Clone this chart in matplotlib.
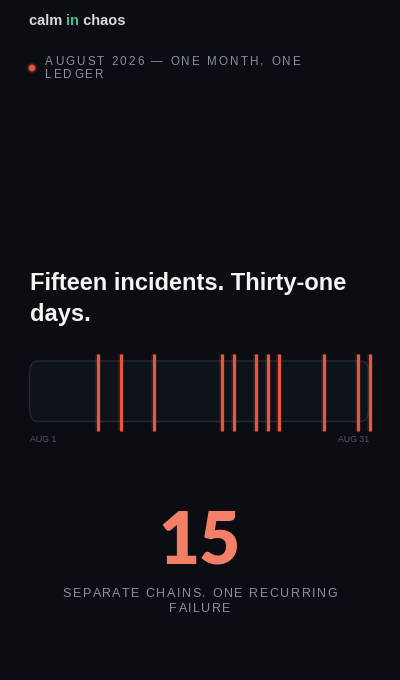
import matplotlib
matplotlib.use("Agg")
import matplotlib.pyplot as plt
from matplotlib.patches import FancyBboxPatch, Ellipse

# ---- data ----
brand_parts = ["calm ", "in", " chaos"]
subtitle_lines = ["AUGUST 2026 — ONE MONTH, ONE", "LEDGER"]
title_lines = ["Fifteen incidents. Thirty-one", "days."]
incident_days = [7, 9, 12, 18, 19, 21, 22, 23, 27, 30, 31]
day_range = [1, 31]
axis_labels = ["AUG 1", "AUG 31"]
big_number = "15"
caption_lines = ["SEPARATE CHAINS, ONE RECURRING", "FAILURE"]

# ---- style ----
W, H = 400, 680
BG = "#0b0d12"
RED = "#e9553d"
SALMON = "#f47f67"
GREEN = "#3fbf8f"
LIGHT = "#d9dbe0"
GREY = "#8a909c"
DIM = "#525966"
SANS = ["Liberation Sans", "DejaVu Sans"]

fig = plt.figure(figsize=(W / 100, H / 100), dpi=100, facecolor=BG)
renderer = fig.canvas.get_renderer()


def fx(px):
    return px / W


def fy(py):
    return 1 - py / H


def text_width(s, **kw):
    t = fig.text(0, 0, s, **kw)
    w = t.get_window_extent(renderer).width
    t.remove()
    return w


def spaced_text(x_px, y_px, s, spacing, ha="left", **kw):
    base = text_width("II", **kw)
    pos = [text_width("I" + s[:i] + "I", **kw) - base + i * spacing for i in range(len(s))]
    total = text_width("I" + s + "I", **kw) - base + (len(s) - 1) * spacing
    off = x_px if ha == "left" else x_px - total / 2
    for ch, p in zip(s, pos):
        fig.text(fx(off + p), fy(y_px), ch, ha="left", va="baseline", **kw)


# brand
x = 29
for i, part in enumerate(brand_parts):
    kw = dict(family=SANS, fontsize=10.5, fontweight="bold")
    fig.text(fx(x), fy(25), part, color=GREEN if i == 1 else LIGHT, ha="left", va="baseline", **kw)
    x += text_width(part + "I", **kw) - text_width("I", **kw)

# subtitle with dot
for r, a in [(5.5, 0.12), (4.3, 0.25), (3.2, 1.0)]:
    fig.patches.append(Ellipse((fx(32), fy(68)), 2 * r / W, 2 * r / H,
                               transform=fig.transFigure, color=RED, alpha=a, linewidth=0))
for line, base in zip(subtitle_lines, [65, 78]):
    spaced_text(45, base, line, 2.1, family=SANS, fontsize=8.4, color=GREY)

# title
for line, base in zip(title_lines, [290, 321]):
    fig.text(fx(30), fy(base), line, family=SANS, fontsize=17, fontweight="bold",
             color="#f5f5f5", ha="left", va="baseline")

# timeline axes
ax_left, ax_right, ax_top, ax_bot = 30, 369.5, 354, 431
ax = fig.add_axes([fx(ax_left), fy(ax_bot), (ax_right - ax_left) / W, (ax_bot - ax_top) / H])
ax.set_facecolor("none")
ax.set_xlim(day_range)
ax.set_ylim(0, 1)
ax.axis("off")
box = FancyBboxPatch((fx(29.5), fy(421.5)), (369 - 29.5) / W, (421.5 - 361) / H,
                     boxstyle="round,pad=0,rounding_size=0.02", transform=fig.transFigure,
                     facecolor="#0e1319", edgecolor="#222932", linewidth=1.0, zorder=1,
                     clip_on=False)
ax.add_patch(box)
ax.vlines(incident_days, 0, 1, color=RED, linewidth=4.0, alpha=0.18, zorder=2, clip_on=False)
ax.vlines(incident_days, 0, 1, color=RED, linewidth=2.2, zorder=3, clip_on=False)

fig.text(fx(30), fy(441.5), axis_labels[0], family=SANS, fontsize=6.3, color=DIM, ha="left", va="baseline")
fig.text(fx(369), fy(441.5), axis_labels[1], family=SANS, fontsize=6.3, color=DIM, ha="right", va="baseline")

# big number
fig.text(fx(200), fy(563.5), big_number, family=["Lato", "DejaVu Sans"], fontsize=51,
         fontweight="heavy", color=SALMON, ha="center", va="baseline")

for line, base in zip(caption_lines, [597, 612]):
    spaced_text(200, base, line, 1.6, ha="center", family=SANS, fontsize=9, color=GREY)

fig.savefig("out.png", dpi=100, facecolor=BG)
